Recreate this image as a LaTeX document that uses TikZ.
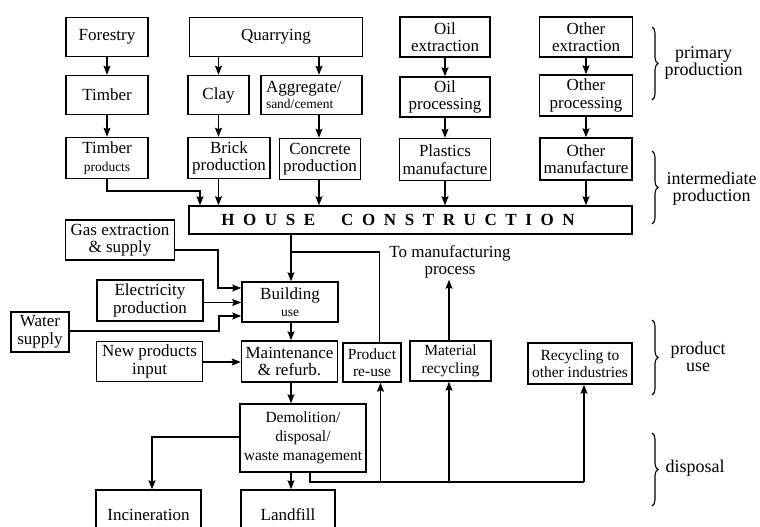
\documentclass[tikz,border=0pt]{standalone}
\usepackage{fontspec}
\setmainfont{Liberation Serif}
\usetikzlibrary{arrows.meta,decorations.pathreplacing,calc}
\newcommand\fa{\fontsize{17}{17.5}\selectfont}
\newcommand\fb{\fontsize{15.5}{17.5}\selectfont}
\newcommand\fc{\fontsize{13.5}{15}\selectfont}
\newcommand\fl{\fontsize{18}{17}\selectfont}
\newcommand\hs{\hspace{8.6pt}}
\begin{document}
\begin{tikzpicture}[x=1pt,y=-1pt,
  box/.style={draw, line width=1.5pt, inner sep=0pt, align=center, font=\fa},
  arr/.style={line width=1.2pt, -{Stealth[length=9pt,width=7pt,inset=1.5pt]}},
  ln/.style={line width=1.2pt},
  br/.style={decorate, decoration={brace, amplitude=6pt}, line width=1.1pt},
  lab/.style={anchor=west, align=center, font=\fl}]
\useasboundingbox (0,0) rectangle (760,527);
\clip (0,0) rectangle (760,527);
% primary
\node[box, minimum width=82, minimum height=39] (Forestry) at (107,37) {Forestry};
\node[box, minimum width=173, minimum height=39] (Quarrying) at (276,37) {Quarrying};
\node[box, minimum width=90, minimum height=40] (OilEx) at (445,37) {Oil\\extraction};
\node[box, minimum width=93, minimum height=40] (OthEx) at (586,37) {Other\\extraction};
\node[box, minimum width=82, minimum height=39] (Timber) at (107,95) {Timber};
\node[box, minimum width=61, minimum height=39] (Clay) at (218.5,95) {Clay};
\node[box, minimum width=101, minimum height=39, text width=91, align=left] (Aggr) at (311.5,95) {Aggregate/\\[-1pt]{\fc sand/cement}};
\node[box, minimum width=90, minimum height=40] (OilPr) at (445,97) {Oil\\processing};
\node[box, minimum width=93, minimum height=41] (OthPr) at (586,95.5) {Other\\processing};
% intermediate
\node[box, minimum width=82, minimum height=41] (TimP) at (107,158) {Timber\\{\fc products}};
\node[box, minimum width=82, minimum height=41] (Brick) at (229,158) {Brick\\production};
\node[box, minimum width=81, minimum height=41] (Concr) at (320,159) {Concrete\\production};
\node[box, minimum width=91, minimum height=42] (Plast) at (445,159.5) {Plastics\\manufacture};
\node[box, minimum width=92, minimum height=42] (OthM) at (586,159) {Other\\manufacture};
\node[box, minimum width=443, minimum height=28, font=\fontsize{17}{17}\selectfont\bfseries] (House) at (410.5,220)
  {H\hs O\hs U\hs S\hs E\hspace{26pt}C\hs O\hs N\hs S\hs T\hs R\hs U\hs C\hs T\hs I\hs O\hs N\hspace{25pt}};
% use
\node[box, minimum width=109, minimum height=40] (Gas) at (120,240) {Gas extraction\\\& supply};
\node[box, minimum width=106, minimum height=41] (Elec) at (150,300.5) {Electricity\\production};
\node[box, minimum width=58, minimum height=40] (Water) at (40,332) {Water\\supply};
\node[box, minimum width=96, minimum height=40] (Build) at (290,302) {Building\\{\fc use}};
\node[box, minimum width=106, minimum height=40] (NewP) at (149.5,361.5) {New products\\input};
\node[box, minimum width=96, minimum height=41] (Maint) at (289.5,361.5) {Maintenance\\\& refurb.};
\node[box, minimum width=58, minimum height=39, font=\fb] (PReuse) at (372,362.5) {Product\\re-use};
\node[box, minimum width=81, minimum height=40, font=\fb] (MatRec) at (450.5,361) {Material\\recycling};
\node[box, minimum width=104, minimum height=41, font=\fb] (RecO) at (580,363.5) {Recycling to\\other industries};
\node[font=\fa, align=center, inner sep=1pt] (ToMan) at (450,262) {To manufacturing\\process};
% disposal
\node[box, minimum width=126, minimum height=68, font=\fontsize{15.5}{19}\selectfont] (Demol) at (303,438) {Demolition/\\disposal/\\waste management};
\node[box, minimum width=105, minimum height=50] (Incin) at (148.5,515) {Incineration};
\node[box, minimum width=94, minimum height=50] (Landf) at (288,515) {Landfill};
% arrows primary
\draw[arr] (Forestry) -- (Timber);
\draw[arr] (Timber) -- (TimP);
\draw[arr] (Quarrying.south -| Clay) -- (Clay);
\draw[arr] (Quarrying.south -| 319,0) -- (Aggr.north -| 319,0);
\draw[arr] (Clay) -- (Brick.north -| Clay);
\draw[arr] (Aggr.south -| 319,0) -- (Concr.north -| 319,0);
\draw[arr] (OilEx) -- (OilPr);
\draw[arr] (OilPr) -- (Plast);
\draw[arr] (OthEx) -- (OthPr);
\draw[arr] (OthPr) -- (OthM);
% into house construction
\draw[arr] (TimP.south) |- (200,191) -- (House.north -| 200,0);
\draw[arr] (Brick.south -| Clay) -- (House.north -| Clay);
\draw[arr] (Concr.south -| 319,0) -- (House.north -| 319,0);
\draw[arr] (Plast) -- (House.north -| Plast);
\draw[arr] (OthM) -- (House.north -| OthM);
% use phase
\draw[arr] (House.south -| 291,0) -- (Build.north -| 291,0);
\draw[ln] (PReuse.north -| 379.5,0) |- (291,252);
\draw[arr] (Gas.east |- 0,250) -| (218,288) -- (Build.west |- 0,288);
\draw[arr] (Elec.east |- 0,302.5) -- (Build.west |- 0,302.5);
\draw[arr] (Water.east |- 0,331) -| (219,316) -- (Build.west |- 0,316);
\draw[arr] (Build.south -| 291,0) -- (Maint.north -| 291,0);
\draw[arr] (NewP.east |- 0,362) -- (Maint.west |- 0,362);
\draw[arr] (MatRec.north -| 449,0) -- (ToMan.south -| 449,0);
% disposal
\draw[arr] (Maint.south -| 291,0) -- (Demol.north -| 291,0);
\draw[arr] (Demol.south -| 291,0) -- (Landf.north -| 291,0);
\draw[arr] (Demol.west |- 0,437) -| (Incin.north -| 152,0);
\coordinate (bus) at (584,482);
\draw[ln] (Demol.south -| 310,0) |- (bus);
\draw[arr] (bus -| 380.5,0) -- (PReuse.south -| 380.5,0);
\draw[arr] (bus -| 449,0) -- (MatRec.south -| 449,0);
\draw[arr] (bus) -- (RecO.south -| bus);
% braces
\draw[br] (652,27) -- (652,100);
\draw[br] (652,151) -- (652,224);
\draw[br] (652,320) -- (652,395);
\draw[br] (652,433) -- (652,506);
\node[lab] (Lprim) at (661,63) {primary\\production};
\node[lab] (Linter) at (663,189) {intermediate\\production};
\node[lab] (Luse) at (667,357) {product\\use};
\node[lab] (Ldisp) at (662,468) {disposal};
\end{tikzpicture}
\end{document}
